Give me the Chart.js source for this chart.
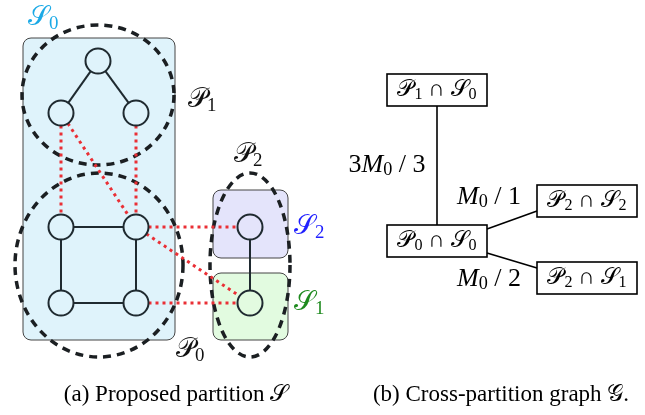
<!doctype html>
<html>
<head>
    <title>Partition diagram</title>
    <script src="https://cdn.jsdelivr.net/npm/chart.js"></script>
    <style>
        body { margin: 0; background: #fff; }
    </style>
</head>
<body>
    <canvas id="diagrama" width="645" height="415"></canvas>

    <script>
    // nodes of the example graph (panel a)
    const nodeX = [98, 61, 136, 61, 136, 61, 136, 250, 250];
    const nodeY = [61, 113, 113, 227, 227, 303, 303, 227, 303];
    const NODE_R = 12.5;

    // solid edges (inside a part) and red dotted edges (cut)
    const solidEdges = [[0, 1], [0, 2], [3, 4], [3, 5], [4, 6], [5, 6], [7, 8]];
    const cutEdges = [[1, 3], [2, 4], [1, 4], [4, 7], [4, 8], [6, 8]];

    // proposed partition S (rounded boxes): x0, y0, x1, y1
    const partBoxes = [[23, 38, 175, 340], [213, 190, 288, 258], [213, 273, 288, 340]];
    const partFills = ['#dff3fb', '#e4e4fb', '#e2fbe0'];

    // original partition P (dashed ellipses): cx, cy, rx, ry
    const pEllipses = [[98, 95, 76, 70], [99, 265, 84, 92], [250, 265, 40, 92]];

    // cross-partition graph (panel b)
    const gNames = ['𝒫_1 ∩ 𝒮_0', '𝒫_0 ∩ 𝒮_0', '𝒫_2 ∩ 𝒮_2', '𝒫_2 ∩ 𝒮_1'];
    const gX = [437, 437, 587, 587];
    const gY = [90, 241, 201, 278];
    const gEdges = [[0, 1], [1, 2], [1, 3]];
    const gWeights = ['3M_0 / 3', 'M_0 / 1', 'M_0 / 2'];
    const gWeightX = [387, 489, 489];
    const gWeightY = [165, 197, 279];

    // labels in panel a
    const labelText = ['𝒮_0', '𝒫_1', '𝒫_2', '𝒮_2', '𝒮_1', '𝒫_0'];
    const labelX = [28, 188, 234, 294, 294, 176];
    const labelY = [18, 100, 155, 227, 303, 350];
    const labelColor = ['#1aa9e6', '#111', '#111', '#1f1fff', '#1e8a1e', '#111'];

    const captions = ['(a) Proposed partition 𝒮', '(b) Cross-partition graph 𝒢.'];
    const captionX = [176, 501];
    const captionY = 395;

    const SERIF = '"Liberation Serif", "DejaVu Serif", "DejaVu Sans", serif';

    // draws "𝒫_1 ∩ 𝒮_0" style text: '_' makes next char a subscript, latin capitals italic
    function richText(ctx, str, x, y, size, color, align) {
        const chars = Array.from(str);
        const parts = [];
        for (let i = 0; i < chars.length; i++) {
            if (chars[i] == '_') { parts.push({ t: chars[++i], sub: true }); continue; }
            const it = /[A-Z]/.test(chars[i]) && chars.length < 12;
            parts.push({ t: chars[i], sub: false, it: it });
        }
        const fontOf = p => (p.it ? 'italic ' : '') + (p.sub ? size * 0.7 : size) + 'px ' + SERIF;
        let w = 0;
        parts.forEach(p => { ctx.font = fontOf(p); p.w = ctx.measureText(p.t).width; w += p.w; });
        let cx = align == 'center' ? x - w / 2 : (align == 'right' ? x - w : x);
        ctx.fillStyle = color;
        ctx.textBaseline = 'middle';
        ctx.textAlign = 'left';
        parts.forEach(p => {
            ctx.font = fontOf(p);
            ctx.fillText(p.t, cx, p.sub ? y + size * 0.22 : y);
            cx += p.w;
        });
    }

    function roundRect(ctx, x0, y0, x1, y1, r) {
        ctx.beginPath();
        ctx.moveTo(x0 + r, y0);
        ctx.arcTo(x1, y0, x1, y1, r);
        ctx.arcTo(x1, y1, x0, y1, r);
        ctx.arcTo(x0, y1, x0, y0, r);
        ctx.arcTo(x0, y0, x1, y0, r);
        ctx.closePath();
    }

    function trimmed(sx, a, b) {
        const x1 = sx.x(nodeX[a]), y1 = sx.y(nodeY[a]);
        const x2 = sx.x(nodeX[b]), y2 = sx.y(nodeY[b]);
        const d = Math.hypot(x2 - x1, y2 - y1);
        const ux = (x2 - x1) / d, uy = (y2 - y1) / d;
        return [x1 + ux * NODE_R, y1 + uy * NODE_R, x2 - ux * NODE_R, y2 - uy * NODE_R];
    }

    const diagramPlugin = {
        id: 'diagrama',
        beforeDatasetsDraw(chart) {
            const ctx = chart.ctx;
            const sx = {
                x: v => chart.scales.x.getPixelForValue(v),
                y: v => chart.scales.y.getPixelForValue(v)
            };
            ctx.save();

            // part boxes
            partBoxes.forEach((b, i) => {
                roundRect(ctx, sx.x(b[0]), sx.y(b[1]), sx.x(b[2]), sx.y(b[3]), 8);
                ctx.fillStyle = partFills[i];
                ctx.fill();
                ctx.lineWidth = 1;
                ctx.strokeStyle = '#444';
                ctx.stroke();
            });

            // dashed ellipses
            ctx.setLineDash([8, 6]);
            ctx.lineWidth = 3.5;
            ctx.strokeStyle = '#1b1f22';
            pEllipses.forEach(e => {
                ctx.beginPath();
                ctx.ellipse(sx.x(e[0]), sx.y(e[1]), sx.x(e[0] + e[2]) - sx.x(e[0]),
                    sx.y(e[1] + e[3]) - sx.y(e[1]), 0, 0, Math.PI * 2);
                ctx.stroke();
            });

            // cut edges
            ctx.setLineDash([3, 4]);
            ctx.lineWidth = 3;
            ctx.strokeStyle = '#ea2f35';
            cutEdges.forEach(e => {
                const s = trimmed(sx, e[0], e[1]);
                ctx.beginPath();
                ctx.moveTo(s[0], s[1]);
                ctx.lineTo(s[2], s[3]);
                ctx.stroke();
            });

            // solid edges
            ctx.setLineDash([]);
            ctx.lineWidth = 2;
            ctx.strokeStyle = '#1f2a30';
            solidEdges.forEach(e => {
                const s = trimmed(sx, e[0], e[1]);
                ctx.beginPath();
                ctx.moveTo(s[0], s[1]);
                ctx.lineTo(s[2], s[3]);
                ctx.stroke();
            });

            // cross-partition graph
            const bw = 50, bh = 16;
            ctx.lineWidth = 1.6;
            ctx.strokeStyle = '#000';
            gEdges.forEach(e => {
                const a = e[0], b = e[1];
                let x1 = sx.x(gX[a]), y1 = sx.y(gY[a]), x2 = sx.x(gX[b]), y2 = sx.y(gY[b]);
                if (x1 == x2) { y1 += bh; y2 -= bh; }
                else {
                    const dir = y2 > y1 ? 1 : -1;
                    x1 += bw; x2 -= bw;
                    y1 += dir * 12; y2 -= dir * 10;
                }
                ctx.beginPath();
                ctx.moveTo(x1, y1);
                ctx.lineTo(x2, y2);
                ctx.stroke();
            });
            gNames.forEach((n, i) => {
                ctx.fillStyle = '#fff';
                ctx.fillRect(sx.x(gX[i]) - bw, sx.y(gY[i]) - bh, bw * 2, bh * 2);
                ctx.strokeRect(sx.x(gX[i]) - bw, sx.y(gY[i]) - bh, bw * 2, bh * 2);
                richText(ctx, n, sx.x(gX[i]), sx.y(gY[i]), 23, '#000', 'center');
            });
            gWeights.forEach((w, i) => {
                richText(ctx, w, sx.x(gWeightX[i]), sx.y(gWeightY[i]), 26, '#000', 'center');
            });

            ctx.restore();
        },
        afterDatasetsDraw(chart) {
            const ctx = chart.ctx;
            const px = v => chart.scales.x.getPixelForValue(v);
            const py = v => chart.scales.y.getPixelForValue(v);
            ctx.save();
            labelText.forEach((t, i) => {
                richText(ctx, t, px(labelX[i]), py(labelY[i]), 27, labelColor[i], 'left');
            });
            captions.forEach((c, i) => {
                richText(ctx, c, px(captionX[i]), py(captionY), 23, '#000', 'center');
            });
            ctx.restore();
        }
    };

    var diagrama = new Chart(document.getElementById('diagrama').getContext('2d'), {
        type: 'scatter',
        data: {
            datasets: [{
                label: 'nodes',
                data: nodeX.map((x, i) => ({ x: x, y: nodeY[i] })),
                pointRadius: NODE_R,
                pointHoverRadius: NODE_R,
                borderWidth: 2,
                borderColor: '#1f2a30',
                backgroundColor: 'rgba(0,0,0,0)'
            }]
        },
        options: {
            responsive: false,
            animation: false,
            layout: { padding: 0, autoPadding: false },
            plugins: {
                legend: { display: false },
                tooltip: { enabled: false }
            },
            scales: {
                x: { type: 'linear', display: false, min: 0, max: 645 },
                y: { type: 'linear', display: false, min: 0, max: 415, reverse: true }
            }
        },
        plugins: [diagramPlugin]
    });
    </script>
</body>
</html>
